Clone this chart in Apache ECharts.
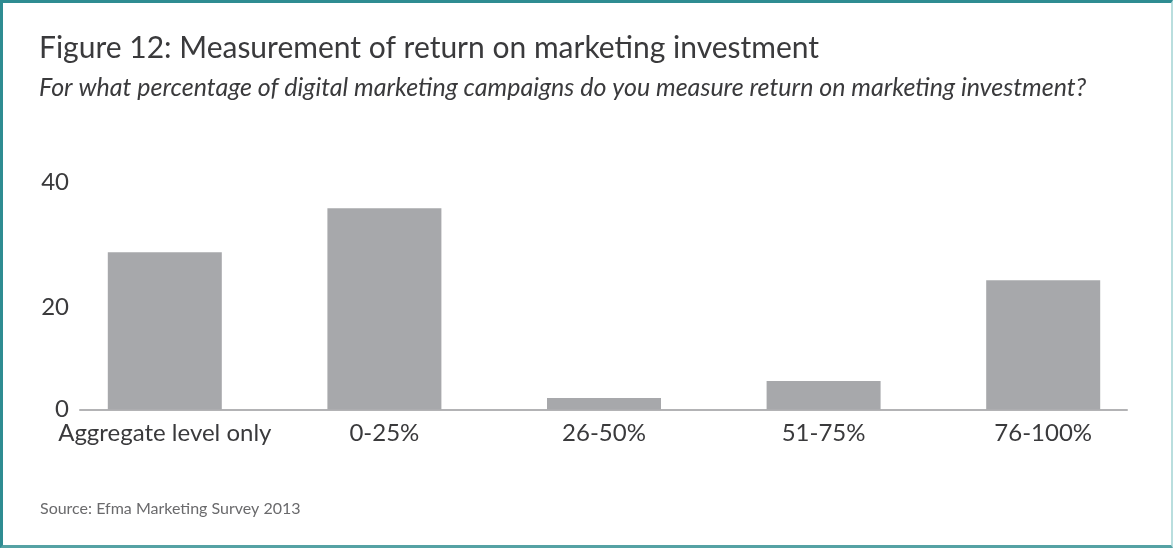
<!DOCTYPE html>
<html>
<head>
<meta charset="utf-8">
<script src="https://cdn.jsdelivr.net/npm/echarts@6/dist/echarts.min.js"></script>
<style>
  html, body { margin: 0; padding: 0; background: #fff; }
  .chart-box {
    position: absolute; left: 0; top: 0;
    width: 1173px; height: 548px;
    box-sizing: border-box;
    border-left: 3px solid #2f8c92;
    border-top: 3px solid #2f8c92;
    border-right: 2px solid #b9dede;
    border-bottom: 3px solid #55a2a4;
  }
  #chart { position: absolute; left: 0; top: 0; width: 1173px; height: 548px; }
</style>
</head>
<body>
<div id="chart"></div>
<div class="chart-box"></div>
<script>
  // survey answers, % of respondents
  const categories = ['Aggregate level only', '0-25%', '26-50%', '51-75%', '76-100%'];
  const shares = [28.6, 36.6, 2.1, 5.2, 23.5];

  const FONT = 'Lato';
  const TEXT = '#3a3a3c';

  const myChart = echarts.init(document.getElementById('chart'));
  const option = {
    animation: false,
    title: [
      {
        text: 'Figure 12: Measurement of return on marketing investment',
        left: 34, top: 28,
        textStyle: { fontFamily: FONT, fontSize: 30, fontWeight: 'normal', color: TEXT }
      },
      {
        text: 'For what percentage of digital marketing campaigns do you measure return on marketing investment?',
        left: 34, top: 70,
        textStyle: { fontFamily: FONT, fontSize: 25, fontStyle: 'italic', fontWeight: 'normal', color: TEXT }
      },
      {
        text: 'Source: Efma Marketing Survey 2013',
        left: 35, top: 496,
        textStyle: { fontFamily: FONT, fontSize: 16, fontWeight: 'normal', color: '#6a6a6c' }
      }
    ],
    grid: [
      // bars
      { left: 55, right: 20, top: 189.5, bottom: 138.5 },
      // baseline + value labels
      { left: 80, right: 46, top: 189.5, bottom: 138.5 }
    ],
    xAxis: [
      {
        type: 'category', gridIndex: 0, data: categories,
        axisLine: { show: false }, axisTick: { show: false },
        axisLabel: { margin: 12, fontFamily: FONT, fontSize: 24, color: TEXT, interval: 0 }
      },
      {
        type: 'category', gridIndex: 1, data: categories,
        axisLine: { show: true, lineStyle: { color: '#b3b3b5', width: 2 } },
        axisTick: { show: false }, axisLabel: { show: false }
      }
    ],
    yAxis: [
      { type: 'value', gridIndex: 0, min: 0, max: 40, show: false },
      {
        type: 'value', gridIndex: 1, min: 0, max: 40, interval: 20,
        axisLine: { show: false }, axisTick: { show: false }, splitLine: { show: false },
        axisLabel: {
          margin: 11, fontFamily: FONT, fontSize: 24, color: TEXT,
          // the printed labels sit a little off their gridlines
          formatter: v => v === 40 ? '{up|40}' : v === 20 ? '{down|20}' : '{mid|' + v + '}',
          rich: {
            up: { fontFamily: FONT, fontSize: 24, color: TEXT, padding: [0, 0, 14, 0] },
            down: { fontFamily: FONT, fontSize: 24, color: TEXT, padding: [16, 0, 0, 0] },
            mid: { fontFamily: FONT, fontSize: 24, color: TEXT }
          }
        }
      }
    ],
    series: [
      {
        type: 'bar', xAxisIndex: 0, yAxisIndex: 0,
        data: shares, barWidth: 114,
        itemStyle: { color: '#a7a8ab' }
      }
    ]
  };
  myChart.setOption(option);
</script>
</body>
</html>
